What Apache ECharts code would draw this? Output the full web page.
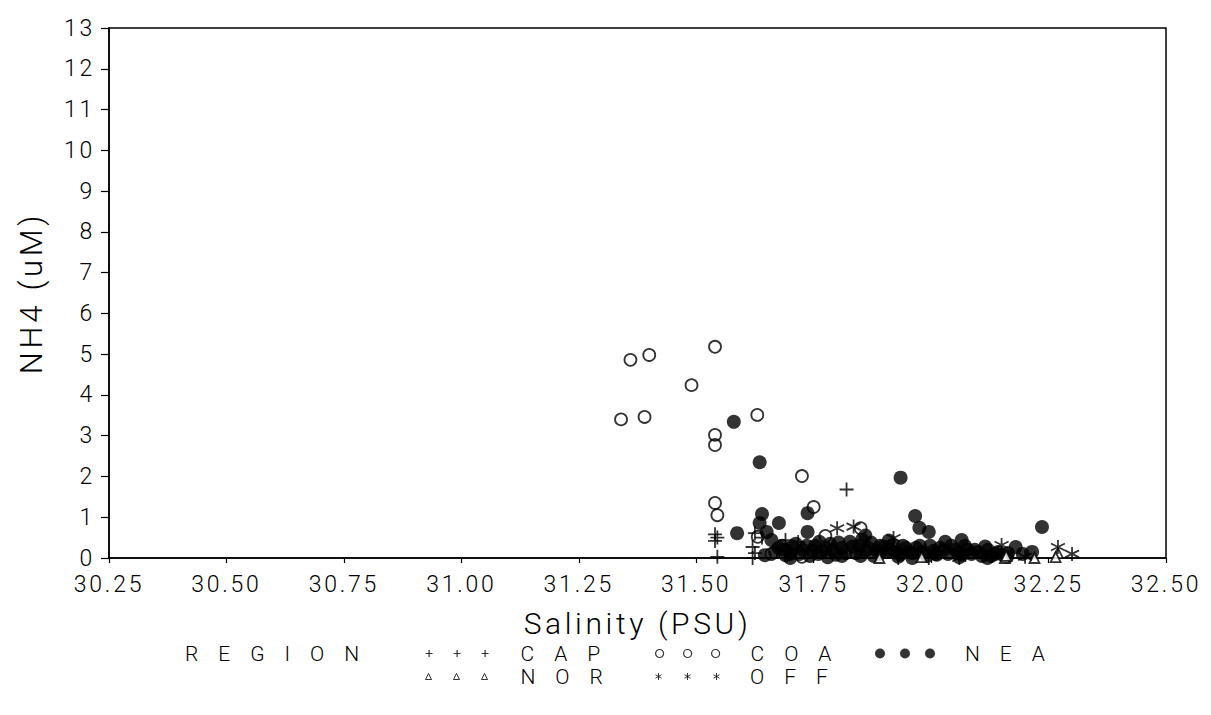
<!DOCTYPE html>
<html><head><meta charset="utf-8">
<script src="https://cdn.jsdelivr.net/npm/echarts@6/dist/echarts.min.js"></script>
<style>
html,body{margin:0;padding:0;background:#fff;}
#chart{width:1211px;height:715px;}
#chart svg text{letter-spacing:0.12em;}
#chart svg text[style*="21px"]{letter-spacing:0.95em;}
</style></head><body><div id="chart"></div>
<script>
// ---- data (salinity PSU, NH4 uM) ----
const regions = ['CAP', 'COA', 'NEA', 'NOR', 'OFF'];
const capData = [[31.82,1.68],[31.54,0.58],[31.545,0.50],[31.54,0.42],[31.545,0.03],[31.625,0.61],[31.62,0.27],[31.625,0.12],[31.62,0.0],[31.69,0.44],[31.717,0.39],[31.93,0.0],[31.995,0.0],[31.64,0.5]];
const coaData = [[31.34,3.40],[31.36,4.86],[31.40,4.98],[31.39,3.46],[31.49,4.24],[31.54,5.18],[31.54,3.02],[31.54,2.77],[31.54,1.35],[31.545,1.05],[31.63,3.51],[31.725,2.01],[31.75,1.25],[31.631,0.52],[31.775,0.54],[31.85,0.73],[31.725,0.03],[31.66,0.1]];
const neaData = [[31.58,3.34],[31.635,2.35],[31.64,1.08],[31.635,0.86],[31.676,0.86],[31.587,0.61],[31.737,1.10],[31.737,0.64],[31.65,0.64],[31.66,0.44],[31.646,0.07],[31.69,0.07],[31.935,1.97],[31.966,1.03],[31.975,0.74],[31.995,0.64],[32.236,0.76],[32.03,0.40],[32.065,0.44],[32.18,0.27],[32.215,0.15],[32.164,0.12],[32.162,0.03],
  [31.668,0.15],[31.683,0.30],[31.70,0.10],[31.712,0.35],[31.727,0.20],[31.742,0.05],[31.753,0.30],[31.768,0.15],[31.785,0.35],[31.797,0.08],[31.81,0.25],[31.827,0.40],[31.84,0.12],[31.853,0.45],[31.866,0.25],[31.878,0.05],[31.891,0.30],[31.904,0.15],[31.919,0.32],[31.934,0.08],[31.946,0.25],[31.961,0.12],[31.976,0.30],[31.991,0.05],[32.006,0.18],[32.019,0.25],[32.036,0.10],[32.051,0.20],[32.066,0.08],[32.078,0.20],[32.093,0.20],[32.108,0.05],[32.121,0.20],[32.136,0.10],
  [31.76,0.10],[31.81,0.05],[31.85,0.05],[31.89,0.10],[31.96,0.0],[32.01,0.10],[32.06,0.02],[32.12,0.0],[31.70,0.0],[31.78,0.02],[31.93,0.03],[31.91,0.43],[31.86,0.55],
  [31.675,0.25],[31.69,0.20],[31.705,0.28],[31.72,0.10],[31.735,0.30],[31.748,0.18],[31.762,0.40],[31.775,0.25],[31.79,0.20],[31.803,0.38],[31.818,0.12],[31.833,0.28],[31.846,0.30],[31.86,0.18],[31.872,0.38],[31.885,0.18],[31.898,0.28],[31.912,0.20],[31.925,0.15],[31.94,0.30],[31.953,0.15],[31.968,0.25],[31.983,0.15],[31.998,0.30],[32.012,0.08],[32.027,0.20],[32.043,0.30],[32.058,0.12],[32.072,0.30],[32.086,0.10],[32.10,0.15],[32.115,0.28],[32.128,0.05],[32.143,0.15],[32.152,0.08],[32.195,0.10]];
const norData = [[31.89,0.0],[32.157,0.0],[32.16,0.05],[32.22,0.0],[32.27,0.12],[32.265,0.02],[31.98,0.02]];
const offData = [[31.80,0.73],[31.835,0.77],[31.92,0.49],[32.15,0.32],[32.27,0.27],[32.30,0.10],[32.20,0.03],[32.06,0.0],[32.13,0.05]];

const xRange = [30.25, 32.50, 0.25];
const yRange = [0, 13, 1];
const xTitle = 'Salinity (PSU)';
const yTitle = 'NH4 (uM)';
const legendTitle = 'REGION';

// ---- styling ----
const FONT = 'Roboto';
const PLUS = 'path://M-1,0H1M0,-1V1';
const STAR = 'path://M0,-1V1M-0.866,-0.5L0.866,0.5M-0.866,0.5L0.866,-0.5';
const lineStyle = (fill) => ({color: fill, borderColor: '#000', borderWidth: 1.8});

const legendIcons = {
  CAP: 'path://M0,3.5H7M3.5,0V7M28,3.5H35M31.5,0V7M56,3.5H63M59.5,0V7',
  COA: 'path://M0,4A4,4,0,1,0,8,4A4,4,0,1,0,0,4ZM28,4A4,4,0,1,0,36,4A4,4,0,1,0,28,4ZM56,4A4,4,0,1,0,64,4A4,4,0,1,0,56,4Z',
  NEA: 'path://M0,5A5,5,0,1,0,10,5A5,5,0,1,0,0,5ZM25,5A5,5,0,1,0,35,5A5,5,0,1,0,25,5ZM50,5A5,5,0,1,0,60,5A5,5,0,1,0,50,5Z',
  NOR: 'path://M3,0L6,6H0ZM31,0L34,6H28ZM59,0L62,6H56Z',
  OFF: 'path://M3.5,0V7M0.5,1.75L6.5,5.25M0.5,5.25L6.5,1.75M32.5,0V7M29.5,1.75L35.5,5.25M29.5,5.25L35.5,1.75M61.5,0V7M58.5,1.75L64.5,5.25M58.5,5.25L64.5,1.75'
};
const legendBox = {
  CAP: {left: 425, top: 643, w: 63, h: 7, pad: 27, st: {color: 'transparent', borderColor: '#000', borderWidth: 1.2}},
  COA: {left: 655, top: 643, w: 64, h: 8, pad: 26, st: {color: 'transparent', borderColor: '#000', borderWidth: 1.2}},
  NEA: {left: 875, top: 643, w: 60, h: 10, pad: 25, st: {color: '#000', borderColor: '#000', borderWidth: 0}},
  NOR: {left: 425, top: 666, w: 62, h: 6, pad: 28, st: {color: 'transparent', borderColor: '#000', borderWidth: 1}},
  OFF: {left: 655, top: 666, w: 65, h: 7, pad: 25, st: {color: 'transparent', borderColor: '#000', borderWidth: 1}}
};

const chart = echarts.init(document.getElementById('chart'), null, {renderer: 'svg'});
const option = {
  backgroundColor: '#fff',
  animation: false,
  textStyle: {fontFamily: FONT, color: '#000'},
  grid: {left: 109, right: 45, top: 28, bottom: 157, show: true, borderColor: '#000', borderWidth: 1.5, backgroundColor: 'transparent'},
  xAxis: {
    type: 'value', min: xRange[0], max: xRange[1], interval: xRange[2],
    name: xTitle, nameLocation: 'middle', nameGap: 50,
    nameTextStyle: {fontSize: 30, fontWeight: 300, color: '#000', fontFamily: FONT},
    axisLine: {lineStyle: {color: '#000', width: 1.5}},
    axisTick: {show: true, inside: false, length: 5, lineStyle: {color: '#000', width: 1.2}},
    axisLabel: {margin: 15, fontSize: 23, fontWeight: 300, color: '#000', fontFamily: FONT, formatter: v => v.toFixed(2)},
    splitLine: {show: false}
  },
  yAxis: {
    type: 'value', min: yRange[0], max: yRange[1], interval: yRange[2],
    name: yTitle, nameLocation: 'middle', nameGap: 62, nameRotate: 90,
    nameTextStyle: {fontSize: 31, fontWeight: 300, color: '#000', fontFamily: FONT},
    axisLine: {lineStyle: {color: '#000', width: 1.5}},
    axisTick: {show: true, inside: false, length: 8, lineStyle: {color: '#000', width: 1.2}},
    axisLabel: {margin: 14, fontSize: 23, fontWeight: 300, color: '#000', fontFamily: FONT},
    splitLine: {show: false}
  },
  legend: regions.map(r => ({
    data: [r], left: legendBox[r].left, top: legendBox[r].top, padding: 0,
    icon: legendIcons[r], itemWidth: legendBox[r].w, itemHeight: legendBox[r].h,
    itemStyle: legendBox[r].st, selectedMode: false,
    textStyle: {fontSize: 21, fontWeight: 300, color: '#000', fontFamily: FONT, padding: [0, 0, 0, legendBox[r].pad]}
  })),
  graphic: [{
    type: 'text', left: 185, top: 643,
    style: {text: legendTitle, fontSize: 21, fontWeight: 300, fill: '#000', fontFamily: FONT}
  }],
  series: [
    {name: 'NEA', type: 'scatter', data: neaData, symbol: 'circle', symbolSize: 14, itemStyle: {color: '#000'}},
    {name: 'COA', type: 'scatter', data: coaData, symbol: 'circle', symbolSize: 12, itemStyle: lineStyle('rgba(255,255,255,0)')},
    {name: 'CAP', type: 'scatter', data: capData, symbol: PLUS, symbolSize: 14, itemStyle: lineStyle('#000')},
    {name: 'NOR', type: 'scatter', data: norData, symbol: 'triangle', symbolSize: 10, itemStyle: lineStyle('#fff')},
    {name: 'OFF', type: 'scatter', data: offData, symbol: STAR, symbolSize: 14, itemStyle: lineStyle('#000')}
  ].map(s => Object.assign(s, {emphasis: {disabled: true}, silent: true}))
};
chart.setOption(option);
</script></body></html>
